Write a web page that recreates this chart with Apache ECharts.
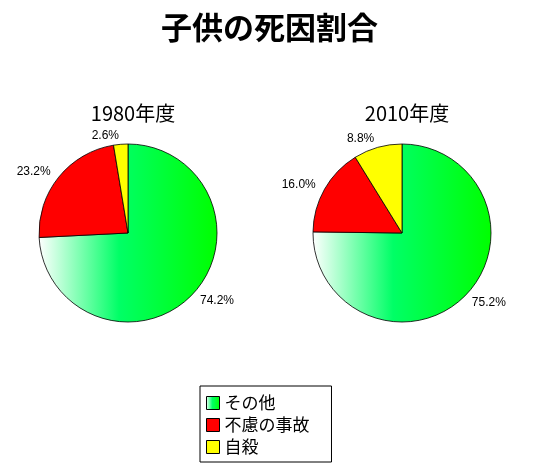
<!DOCTYPE html>
<html>
<head>
<meta charset="utf-8">
<script src="https://cdn.jsdelivr.net/npm/echarts@6/dist/echarts.min.js"></script>
<style>
  html, body { margin: 0; padding: 0; background: #fff; }
  #main { width: 539px; height: 463px; }
</style>
</head>
<body>
<div id="main"></div>
<script>
// 死因の区分と各年度の割合(%)
const causes = ['その他', '不慮の事故', '自殺'];
const years = ['1980年度', '2010年度'];
const share1980 = [74.2, 23.2, 2.6];
const share2010 = [75.2, 16.0, 8.8];

const jp = '"Noto Sans CJK JP", sans-serif';

// その他は左が白、右が緑のグラデーション
const otherFill = new echarts.graphic.LinearGradient(0, 0, 1, 0, [
  { offset: 0, color: '#ffffff' },
  { offset: 0.45, color: '#00ff66' },
  { offset: 1, color: '#00ff00' }
]);
const colors = [otherFill, '#ff0000', '#ffff00'];

function pieData(values) {
  return causes.map(function (name, i) {
    return { name: name, value: values[i], itemStyle: { color: colors[i] } };
  });
}

function pieSeries(name, values, cx) {
  return {
    name: name,
    type: 'pie',
    center: [cx, 233],
    radius: 89,
    startAngle: 90,
    clockwise: true,
    data: pieData(values),
    itemStyle: { borderColor: '#000', borderWidth: 0.8 },
    label: {
      show: true,
      position: 'outside',
      distanceToLabelLine: 1,
      fontSize: 12,
      fontFamily: '"Liberation Sans", Arial, sans-serif',
      color: '#000',
      formatter: function (p) { return p.value.toFixed(1) + '%'; }
    },
    labelLine: { show: false, length: 9, length2: 0 },
    emphasis: { disabled: true }
  };
}

let myChart = echarts.init(document.getElementById('main'));
myChart.setOption({
  animation: false,
  backgroundColor: '#fff',
  title: [
    { text: '子供の死因割合', left: 'center', top: 7,
      textStyle: { fontFamily: jp, fontSize: 31, fontWeight: 'bold', color: '#000' } },
    { text: years[0], left: 128, top: 98, textAlign: 'center',
      textStyle: { fontFamily: jp, fontSize: 20, fontWeight: 'normal', color: '#000' } },
    { text: years[1], left: 402, top: 98, textAlign: 'center',
      textStyle: { fontFamily: jp, fontSize: 20, fontWeight: 'normal', color: '#000' } }
  ],
  legend: {
    data: causes,
    orient: 'vertical',
    left: 200,
    top: 386,
    height: 72,
    padding: [8, 22, 6, 6],
    itemGap: 4,
    itemWidth: 13,
    itemHeight: 13,
    borderColor: '#000',
    borderWidth: 1,
    icon: 'rect',
    itemStyle: { borderColor: '#000', borderWidth: 1 },
    textStyle: { fontFamily: jp, fontSize: 17, lineHeight: 18, color: '#000' }
  },
  series: [
    pieSeries(years[0], share1980, 128),
    pieSeries(years[1], share2010, 402)
  ]
});
</script>
</body>
</html>
